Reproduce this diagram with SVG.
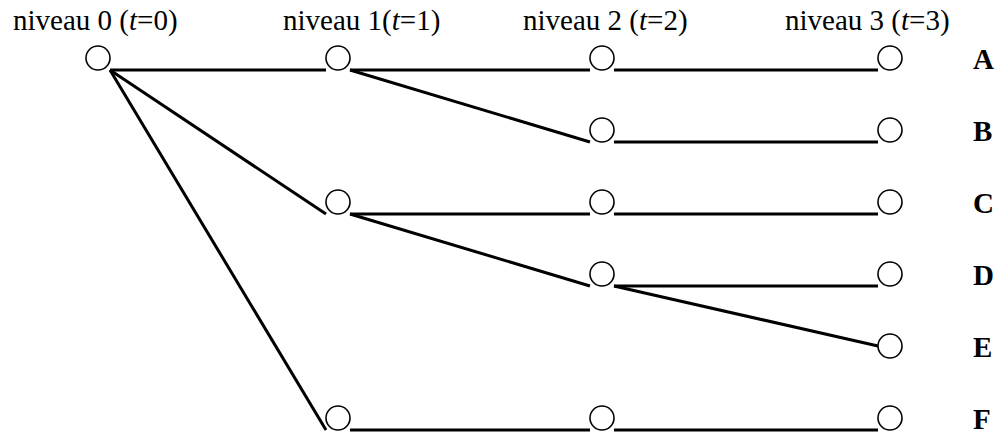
<svg xmlns="http://www.w3.org/2000/svg" width="1003" height="437" viewBox="0 0 1003 437">
<style>
.n{fill:#fff;stroke:#000;stroke-width:1.6}
.c{stroke:#000;stroke-width:3;fill:none}
.h{font-family:"Liberation Serif","Times New Roman",serif;font-size:29px;fill:#000}
.l{font-family:"Liberation Serif","Times New Roman",serif;font-size:29px;font-weight:bold;fill:#000}
</style>
<rect width="1003" height="437" fill="#fff"/>
<g id="headers">
<text class="h" x="13" y="30">niveau 0 (<tspan font-style="italic">t</tspan>=0)</text>
<text class="h" x="283" y="30">niveau 1(<tspan font-style="italic">t</tspan>=1)</text>
<text class="h" x="523" y="30">niveau 2 (<tspan font-style="italic">t</tspan>=2)</text>
<text class="h" x="785" y="30">niveau 3 (<tspan font-style="italic">t</tspan>=3)</text>
</g>
<g id="connectors" class="c">
<line x1="110" y1="70" x2="326" y2="70"/>
<line x1="110" y1="70" x2="326" y2="214"/>
<line x1="110" y1="70" x2="326" y2="430"/>
<line x1="350" y1="70" x2="590" y2="70"/>
<line x1="350" y1="70" x2="590" y2="142"/>
<line x1="350" y1="214" x2="590" y2="214"/>
<line x1="350" y1="214" x2="590" y2="286"/>
<line x1="350" y1="430" x2="590" y2="430"/>
<line x1="614" y1="70" x2="878" y2="70"/>
<line x1="614" y1="142" x2="878" y2="142"/>
<line x1="614" y1="214" x2="878" y2="214"/>
<line x1="614" y1="286" x2="878" y2="286"/>
<line x1="614" y1="286" x2="878" y2="346"/>
<line x1="614" y1="430" x2="878" y2="430"/>
</g>
<g id="n0"><circle class="n" cx="98" cy="58" r="12"/></g>
<g id="n1a"><circle class="n" cx="338" cy="58" r="12"/></g>
<g id="n1c"><circle class="n" cx="338" cy="202" r="12"/></g>
<g id="n1f"><circle class="n" cx="338" cy="418" r="12"/></g>
<g id="n2a"><circle class="n" cx="602" cy="58" r="12"/></g>
<g id="n2b"><circle class="n" cx="602" cy="130" r="12"/></g>
<g id="n2c"><circle class="n" cx="602" cy="202" r="12"/></g>
<g id="n2d"><circle class="n" cx="602" cy="274" r="12"/></g>
<g id="n2f"><circle class="n" cx="602" cy="418" r="12"/></g>
<g id="n3a"><circle class="n" cx="890" cy="58" r="12"/><text class="l" x="973" y="69">A</text></g>
<g id="n3b"><circle class="n" cx="890" cy="130" r="12"/><text class="l" x="973" y="141">B</text></g>
<g id="n3c"><circle class="n" cx="890" cy="202" r="12"/><text class="l" x="973" y="213">C</text></g>
<g id="n3d"><circle class="n" cx="890" cy="274" r="12"/><text class="l" x="973" y="285">D</text></g>
<g id="n3e"><circle class="n" cx="890" cy="346" r="12"/><text class="l" x="973" y="357">E</text></g>
<g id="n3f"><circle class="n" cx="890" cy="418" r="12"/><text class="l" x="973" y="429">F</text></g>
</svg>
